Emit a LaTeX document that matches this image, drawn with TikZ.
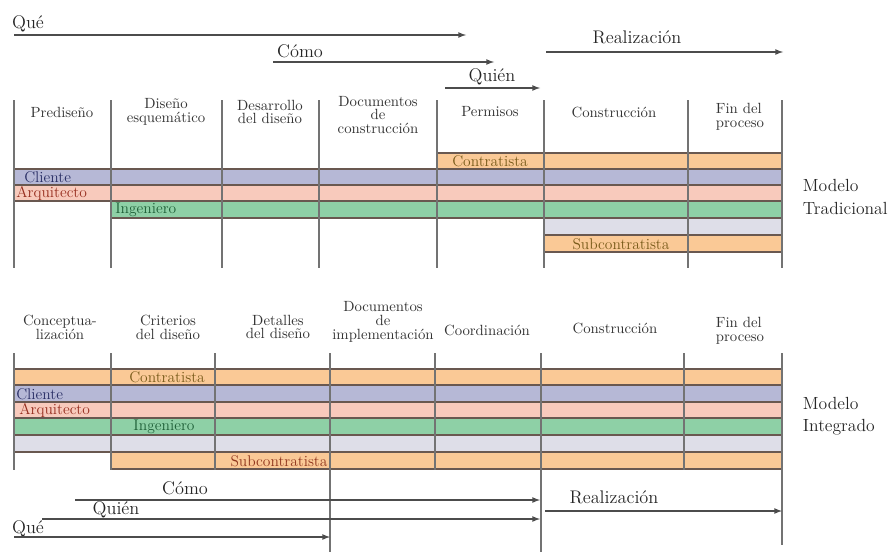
\documentclass[tikz,border=0pt]{standalone}
\usepackage{fontspec}
\usepackage{tikz}
\usetikzlibrary{arrows}

\definecolor{naranja}{RGB}{250,201,150}
\definecolor{lila}{RGB}{182,184,214}
\definecolor{rosa}{RGB}{248,202,188}
\definecolor{verde}{RGB}{142,208,166}
\definecolor{gris}{RGB}{222,222,232}
\definecolor{borde}{RGB}{105,88,80}
\definecolor{txcliente}{RGB}{40,45,100}
\definecolor{txarq}{RGB}{150,45,30}
\definecolor{txing}{RGB}{30,95,55}
\definecolor{txcont}{RGB}{120,90,25}

\begin{document}
\begin{tikzpicture}[x=0.025cm, y=-0.025cm,
	fase/.style={font=\fontsize{10.5}{9.8}\selectfont, align=center, text=black!80},
	rol/.style={font=\fontsize{11}{11}\selectfont, inner sep=0pt},
	etiqueta/.style={font=\fontsize{13}{13}\selectfont, text=black!85},
	modelo/.style={font=\fontsize{12.5}{16}\selectfont, align=left, anchor=west, text=black!85},
	flecha/.style={-latex, draw=black!70, line width=0.9pt},
	barra/.style={draw=borde, line width=0.8pt},
	linea/.style={draw=black!55, line width=1.1pt}]
	\useasboundingbox (0,0) rectangle (892,552);

	% modelo tradicional
	\node[etiqueta] (que1) at (28,24) {Qué};
	\node[etiqueta] (como1) at (300,51) {Cómo};
	\node[etiqueta] (real1) at (637,37) {Realización};
	\node[etiqueta] (quien1) at (492,77) {Quién};
	\coordinate (que1a) at (14,35);
	\coordinate (que1b) at (466,35);
	\coordinate (como1a) at (273,62);
	\coordinate (como1b) at (494,62);
	\coordinate (real1a) at (546,52);
	\coordinate (real1b) at (783,52);
	\coordinate (quien1a) at (445,88);
	\coordinate (quien1b) at (540,88);
	\draw[flecha] (que1a) -- (que1b);
	\draw[flecha] (como1a) -- (como1b);
	\draw[flecha] (real1a) -- (real1b);
	\draw[flecha] (quien1a) -- (quien1b);

	\node[fase] (t1) at (62,112) {Prediseño};
	\node[fase] (t2) at (166,112) {Diseño\\esquemático};
	\node[fase] (t3) at (270,112) {Desarrollo\\del diseño};
	\node[fase] (t4) at (378,115) {Documentos\\de\\construcción};
	\node[fase] (t5) at (490,112) {Permisos};
	\node[fase] (t6) at (614,112) {Construcción};
	\node[fase, align=left] (t7) at (740,117) {Fin del\\proceso};

	\draw[barra, fill=naranja] (437,153) rectangle (782,169);
	\draw[barra, fill=lila] (14,169) rectangle (782,185);
	\draw[barra, fill=rosa] (14,185) rectangle (782,201);
	\draw[barra, fill=verde] (111,201) rectangle (782,218);
	\draw[barra, fill=gris] (544,218) rectangle (782,235);
	\draw[barra, fill=naranja] (544,235) rectangle (782,252);

	\node[rol, text=txcont, anchor=west] (cont1) at (452,161) {Contratista};
	\node[rol, text=txcliente, anchor=west] (cli1) at (24,177) {Cliente};
	\node[rol, text=txarq, anchor=west] (arq1) at (16,193) {Arquitecto};
	\node[rol, text=txing, anchor=west] (ing1) at (115,210) {Ingeniero};
	\node[rol, text=txcont] (sub1) at (621,244) {Subcontratista};

	\draw[linea] (14,100) -- (14,268);
	\draw[linea] (111,100) -- (111,268);
	\draw[linea] (222,100) -- (222,268);
	\draw[linea] (319,100) -- (319,268);
	\draw[linea] (437,100) -- (437,268);
	\draw[linea] (544,100) -- (544,268);
	\draw[linea] (688,100) -- (688,268);
	\draw[linea] (782,100) -- (782,268);

	\node[modelo] (mt) at (798,197) {Modelo\\Tradicional};

	% modelo integrado
	\node[fase] (i1) at (60,327) {Conceptua-\\lización};
	\node[fase] (i2) at (168,327) {Criterios\\del diseño};
	\node[fase] (i3) at (278,327) {Detalles\\del diseño};
	\node[fase] (i4) at (383,322) {Documentos\\de\\implementación};
	\node[fase] (i5) at (487,330) {Coordinación};
	\node[fase] (i6) at (615,328) {Construcción};
	\node[fase, align=left] (i7) at (740,331) {Fin del\\proceso};

	\draw[barra, fill=naranja] (14,369) rectangle (782,385);
	\draw[barra, fill=lila] (14,385) rectangle (782,402);
	\draw[barra, fill=rosa] (14,402) rectangle (782,418);
	\draw[barra, fill=verde] (14,418) rectangle (782,435);
	\draw[barra, fill=gris] (14,435) rectangle (782,452);
	\draw[barra, fill=naranja] (111,452) rectangle (782,469);

	\node[rol, text=txcont] (cont2) at (167,377) {Contratista};
	\node[rol, text=txcliente, anchor=west] (cli2) at (16,394) {Cliente};
	\node[rol, text=txarq, anchor=west] (arq2) at (19,410) {Arquitecto};
	\node[rol, text=txing] (ing2) at (164,427) {Ingeniero};
	\node[rol, text=txarq!80!txcont] (sub2) at (279,461) {Subcontratista};

	\draw[linea] (14,353) -- (14,470);
	\draw[linea] (111,353) -- (111,470);
	\draw[linea] (215,353) -- (215,470);
	\draw[linea] (330,353) -- (330,552);
	\draw[linea] (435,353) -- (435,470);
	\draw[linea] (541,353) -- (541,552);
	\draw[linea] (684,353) -- (684,470);
	\draw[linea] (782,353) -- (782,545);

	\node[modelo] (mi) at (798,416) {Modelo\\Integrado};

	\node[etiqueta] (como2) at (185,488) {Cómo};
	\node[etiqueta] (quien2) at (116,510) {Quién};
	\node[etiqueta] (que2) at (28,529) {Qué};
	\node[etiqueta] (real2) at (614,497) {Realización};
	\coordinate (como2a) at (75,500);
	\coordinate (como2b) at (540,500);
	\coordinate (quien2a) at (42,519);
	\coordinate (quien2b) at (540,519);
	\coordinate (que2a) at (14,537);
	\coordinate (que2b) at (330,537);
	\coordinate (real2a) at (545,511);
	\coordinate (real2b) at (782,511);
	\draw[flecha] (como2a) -- (como2b);
	\draw[flecha] (quien2a) -- (quien2b);
	\draw[flecha] (que2a) -- (que2b);
	\draw[flecha] (real2a) -- (real2b);
\end{tikzpicture}
\end{document}
